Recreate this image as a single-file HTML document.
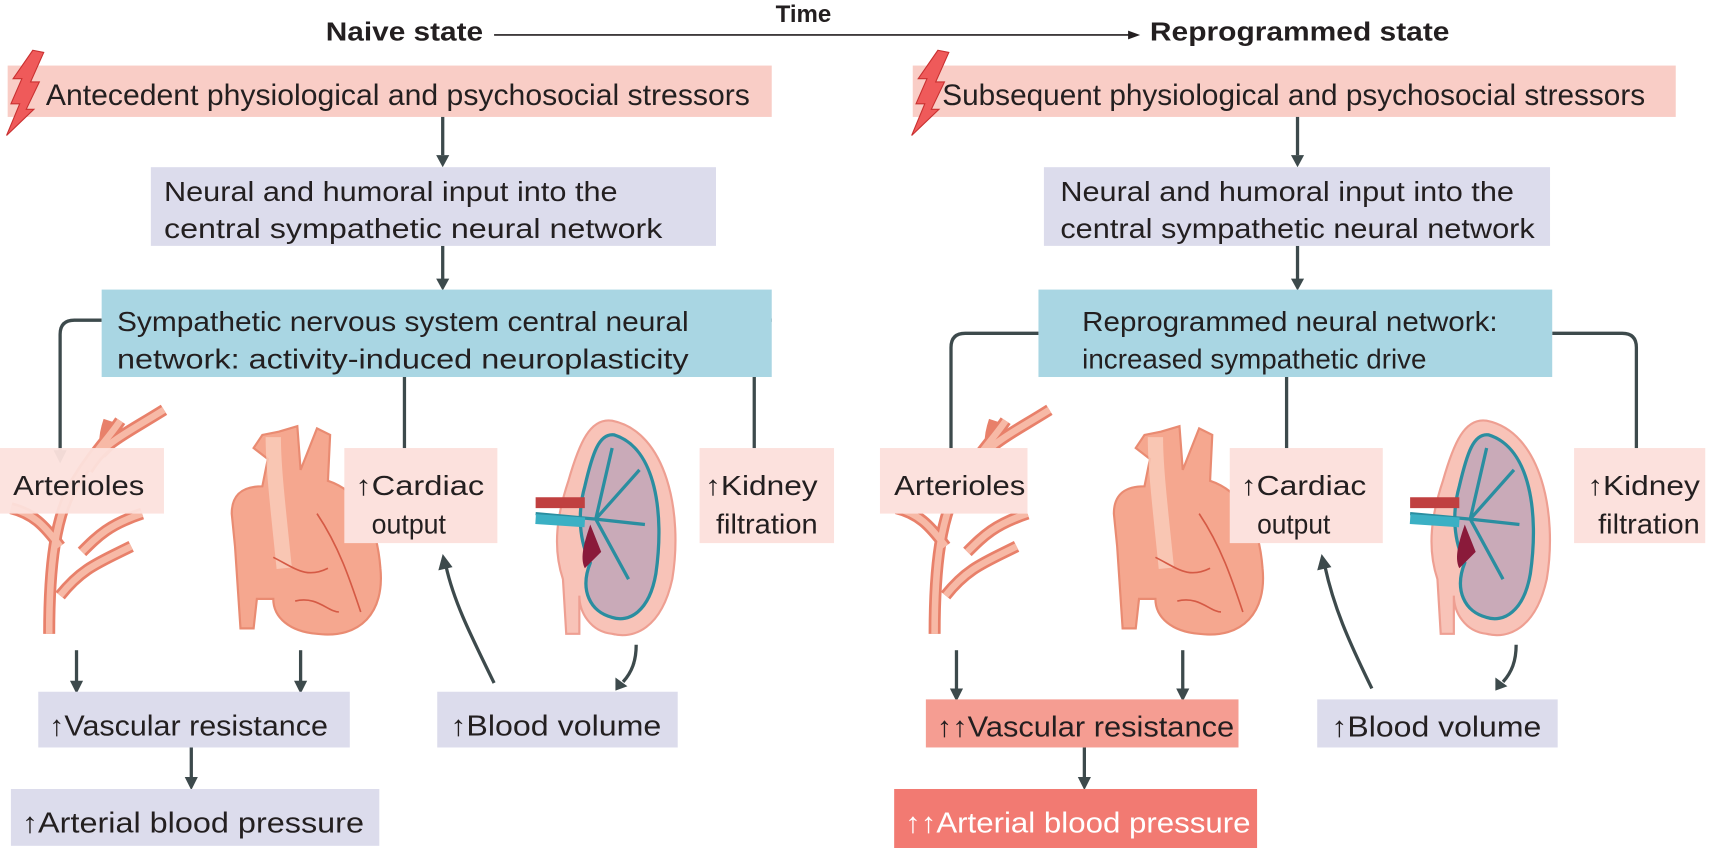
<!DOCTYPE html>
<html><head><meta charset="utf-8"><style>
html,body{margin:0;padding:0;background:#fff;}
svg{display:block;}
text{font-family:"Liberation Sans Narrow","Liberation Sans",sans-serif;fill:#231f20;}
</style></head><body>
<svg width="1714" height="848" viewBox="0 0 1568 776" preserveAspectRatio="none" xmlns="http://www.w3.org/2000/svg">
<defs>
<g id="arterioles">
 <g fill="none" stroke="#e8806a" stroke-width="11" stroke-linecap="butt">
  <path d="M45 580 C45 520 50 470 70 440 C85 415 100 400 110 385"/>
  <path d="M80 430 C95 405 110 400 150 375"/>
  <path d="M55 500 C40 480 30 470 10 465"/>
  <path d="M55 545 C75 520 90 515 120 500"/>
  <path d="M75 505 C90 490 100 480 130 470"/>
  <path d="M100 385 C95 400 95 410 100 415"/>
 </g>
 <g fill="none" stroke="#f7b9a6" stroke-width="6">
  <path d="M45 580 C45 520 50 470 70 440 C85 415 100 400 110 385"/>
  <path d="M80 430 C95 405 110 400 150 375"/>
  <path d="M55 500 C40 480 30 470 10 465"/>
  <path d="M55 545 C75 520 90 515 120 500"/>
  <path d="M75 505 C90 490 100 480 130 470"/>
 </g>
</g>
<g id="heart">
 <path d="M255 395 L272 390 L275 430 L290 392 L302 398 L300 440 C330 450 345 480 348 520 C352 560 330 585 290 580 C265 578 250 565 250 548 L235 548 L232 575 L220 575 L215 500 L212 470 C212 450 225 445 240 445 L245 420 L232 410 L240 398 Z" fill="#f5a78f" stroke="#e98b72" stroke-width="2"/>
 <path d="M250 400 C250 430 255 470 260 520" fill="none" stroke="#fbd3c2" stroke-width="14" opacity="0.7"/>
 <path d="M290 470 C310 500 320 530 330 560 M250 510 C270 520 280 530 300 520 M270 550 C290 545 300 560 310 560" fill="none" stroke="#d55a45" stroke-width="1.5"/>
</g>
<g id="kidney">
 <path d="M560 385 C610 395 625 470 615 530 C605 575 580 585 560 580 C540 578 530 560 530 545 L530 580 L518 580 L515 530 C505 500 510 470 520 440 C530 405 540 382 560 385 Z" fill="#f8c3b8" stroke="#ee9f92" stroke-width="2"/>
 <path d="M562 398 C600 410 608 470 600 525 C594 560 575 570 560 565 C540 560 530 540 540 515 C530 495 528 470 535 445 C542 415 548 396 562 398 Z" fill="#c9aab8" stroke="#2a8ea0" stroke-width="3"/>
 <path d="M490 470 L545 475 M545 475 L585 430 M545 475 L590 480 M545 475 L575 530 M545 475 L560 410" fill="none" stroke="#2a8ea0" stroke-width="3"/>
 <path d="M490 460 L535 460" stroke="#c04040" stroke-width="10"/>
 <path d="M490 475 L535 478" stroke="#3bb0c4" stroke-width="9"/>
 <path d="M540 480 C535 495 530 510 535 520 L550 505 Z" fill="#8a1a3a"/>
</g>
</defs>

<text x="735" y="20" font-size="22" font-weight="bold" text-anchor="middle" font-family="Liberation Sans">Time</text>
<text x="298" y="37" font-size="24" font-weight="bold" textLength="144" lengthAdjust="spacingAndGlyphs">Naive state</text>
<text x="1052" y="37" font-size="24" font-weight="bold" textLength="274" lengthAdjust="spacingAndGlyphs">Reprogrammed state</text>
<line x1="452" y1="32" x2="1035" y2="32" stroke="#231f20" stroke-width="1.5"/>
<path d="M1043 32 L1032 28 L1032 36 Z" fill="#231f20"/>

<rect x="7" y="60" width="699" height="47" fill="#f9cdc6"/>
<path d="M30 46 L40 48 L28 75 L36 75 L24 100 L31 100 L6 124 L18 95 L10 95 L20 72 L12 72 Z" fill="#ef5a5a" stroke="#c93030" stroke-width="1"/>
<text x="42" y="96" font-size="27" textLength="644" lengthAdjust="spacingAndGlyphs">Antecedent physiological and psychosocial stressors</text>

<g stroke="#3d4a4c" stroke-width="3" fill="none">
 <line x1="405" y1="107" x2="405" y2="142"/>
 <line x1="405" y1="225" x2="405" y2="256"/>
 <line x1="370" y1="345" x2="370" y2="414"/>
 <path d="M93 293 L68 293 Q55 293 55 306 L55 414"/>
 <path d="M706 293 L678 293 Q690 293 690 306 L690 414"/>
 <line x1="70" y1="595" x2="70" y2="625"/>
 <line x1="275" y1="595" x2="275" y2="625"/>
 <line x1="175" y1="684" x2="175" y2="713"/>
 <path d="M452 625 C430 580 415 550 408 518"/>
 <path d="M582 590 C582 605 578 615 570 624"/>
</g>
<g fill="#3d4a4c">
 <path d="M399 142 L411 142 L405 153 Z"/>
 <path d="M399 255 L411 255 L405 266 Z"/>
 <path d="M364 412 L376 412 L370 424 Z"/>
 <path d="M49 412 L61 412 L55 424 Z"/>
 <path d="M684 412 L696 412 L690 424 Z"/>
 <path d="M64 623 L76 623 L70 635 Z"/>
 <path d="M269 623 L281 623 L275 635 Z"/>
 <path d="M169 711 L181 711 L175 723 Z"/>
 <path d="M401 522 L414 519 L405 507 Z"/>
 <path d="M563 620 L574 628 L563 632 Z"/>
</g>

<rect x="138" y="153" width="517" height="72" fill="#dcdcec"/>
<text x="150" y="184" font-size="25" textLength="415" lengthAdjust="spacingAndGlyphs">Neural and humoral input into the</text>
<text x="150" y="218" font-size="25" textLength="456" lengthAdjust="spacingAndGlyphs">central sympathetic neural network</text>

<rect x="93" y="265" width="613" height="80" fill="#a9d6e3"/>
<text x="107" y="303" font-size="25" textLength="523" lengthAdjust="spacingAndGlyphs">Sympathetic nervous system central neural</text>
<text x="107" y="337" font-size="25" textLength="523" lengthAdjust="spacingAndGlyphs">network: activity-induced neuroplasticity</text>

<use href="#arterioles"/>
<use href="#heart"/>
<use href="#kidney"/>

<rect x="0" y="410" width="150" height="60" fill="#fce1dd" opacity="0.95"/>
<text x="12" y="453" font-size="25" textLength="120" lengthAdjust="spacingAndGlyphs">Arterioles</text>
<rect x="315" y="410" width="140" height="87" fill="#fce1dd"/>
<text x="325" y="453" font-size="25" textLength="118" lengthAdjust="spacingAndGlyphs">↑Cardiac</text>
<text x="340" y="488" font-size="25" textLength="68" lengthAdjust="spacingAndGlyphs">output</text>
<rect x="640" y="410" width="123" height="87" fill="#fce1dd"/>
<text x="645" y="453" font-size="25" textLength="103" lengthAdjust="spacingAndGlyphs">↑Kidney</text>
<text x="655" y="488" font-size="25" textLength="93" lengthAdjust="spacingAndGlyphs">filtration</text>

<rect x="35" y="633" width="285" height="51" fill="#dcdcec"/>
<text x="45" y="673" font-size="26" textLength="255" lengthAdjust="spacingAndGlyphs">↑Vascular resistance</text>
<rect x="400" y="633" width="220" height="51" fill="#dcdcec"/>
<text x="412" y="673" font-size="26" textLength="193" lengthAdjust="spacingAndGlyphs">↑Blood volume</text>
<rect x="10" y="722" width="337" height="52" fill="#dcdcec"/>
<text x="20" y="762" font-size="26" textLength="313" lengthAdjust="spacingAndGlyphs">↑Arterial blood pressure</text>

<rect x="835" y="60" width="698" height="47" fill="#f9cdc6"/>
<path d="M858 46 L868 48 L856 75 L864 75 L852 100 L859 100 L834 124 L846 95 L838 95 L848 72 L840 72 Z" fill="#ef5a5a" stroke="#c93030" stroke-width="1"/>
<text x="862" y="96" font-size="27" textLength="643" lengthAdjust="spacingAndGlyphs">Subsequent physiological and psychosocial stressors</text>

<g stroke="#3d4a4c" stroke-width="3" fill="none">
 <line x1="1187" y1="107" x2="1187" y2="142"/>
 <line x1="1187" y1="225" x2="1187" y2="256"/>
 <line x1="1177" y1="345" x2="1177" y2="414"/>
 <path d="M950 305 L883 305 Q870 305 870 318 L870 414"/>
 <path d="M1420 305 L1484 305 Q1497 305 1497 318 L1497 414"/>
 <line x1="875" y1="595" x2="875" y2="632"/>
 <line x1="1082" y1="595" x2="1082" y2="632"/>
 <line x1="992" y1="684" x2="992" y2="713"/>
 <path d="M1255 630 C1233 585 1220 555 1212 518"/>
 <path d="M1387 590 C1387 605 1383 615 1375 624"/>
</g>
<g fill="#3d4a4c">
 <path d="M1181 142 L1193 142 L1187 153 Z"/>
 <path d="M1181 255 L1193 255 L1187 266 Z"/>
 <path d="M1171 412 L1183 412 L1177 424 Z"/>
 <path d="M864 412 L876 412 L870 424 Z"/>
 <path d="M1491 412 L1503 412 L1497 424 Z"/>
 <path d="M869 630 L881 630 L875 642 Z"/>
 <path d="M1076 630 L1088 630 L1082 642 Z"/>
 <path d="M986 711 L998 711 L992 723 Z"/>
 <path d="M1205 522 L1218 519 L1209 507 Z"/>
 <path d="M1368 620 L1379 628 L1368 632 Z"/>
</g>

<rect x="955" y="153" width="463" height="72" fill="#dcdcec"/>
<text x="970" y="184" font-size="25" textLength="415" lengthAdjust="spacingAndGlyphs">Neural and humoral input into the</text>
<text x="970" y="218" font-size="25" textLength="434" lengthAdjust="spacingAndGlyphs">central sympathetic neural network</text>

<rect x="950" y="265" width="470" height="80" fill="#a9d6e3"/>
<text x="990" y="303" font-size="25" textLength="380" lengthAdjust="spacingAndGlyphs">Reprogrammed neural network:</text>
<text x="990" y="337" font-size="25" textLength="315" lengthAdjust="spacingAndGlyphs">increased sympathetic drive</text>

<use href="#arterioles" transform="translate(810,0)"/>
<use href="#heart" transform="translate(807,0)"/>
<use href="#kidney" transform="translate(800,0)"/>

<rect x="805" y="410" width="135" height="60" fill="#fce1dd"/>
<text x="818" y="453" font-size="25" textLength="120" lengthAdjust="spacingAndGlyphs">Arterioles</text>
<rect x="1125" y="410" width="140" height="87" fill="#fce1dd"/>
<text x="1135" y="453" font-size="25" textLength="115" lengthAdjust="spacingAndGlyphs">↑Cardiac</text>
<text x="1150" y="488" font-size="25" textLength="67" lengthAdjust="spacingAndGlyphs">output</text>
<rect x="1440" y="410" width="120" height="87" fill="#fce1dd"/>
<text x="1452" y="453" font-size="25" textLength="103" lengthAdjust="spacingAndGlyphs">↑Kidney</text>
<text x="1462" y="488" font-size="25" textLength="93" lengthAdjust="spacingAndGlyphs">filtration</text>

<rect x="847" y="640" width="286" height="44" fill="#f59d92"/>
<text x="857" y="674" font-size="26" textLength="272" lengthAdjust="spacingAndGlyphs">↑↑Vascular resistance</text>
<rect x="1205" y="640" width="220" height="44" fill="#dcdcec"/>
<text x="1218" y="674" font-size="26" textLength="192" lengthAdjust="spacingAndGlyphs">↑Blood volume</text>
<rect x="818" y="722" width="332" height="54" fill="#f27a72"/>
<text x="828" y="762" font-size="26" textLength="316" lengthAdjust="spacingAndGlyphs" style="fill:#fff">↑↑Arterial blood pressure</text>
</svg>
</body></html>
